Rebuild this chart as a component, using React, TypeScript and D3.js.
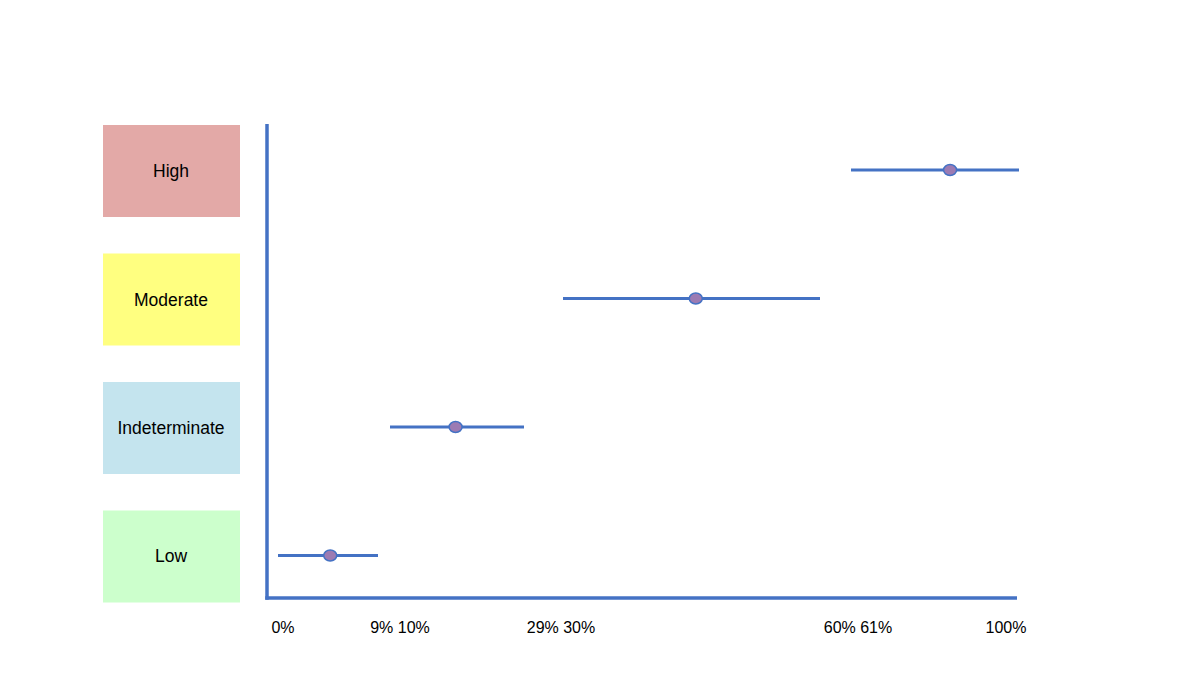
import React from "react";
import * as d3 from "d3";

const categories = ["High", "Moderate", "Indeterminate", "Low"];
const boxColors = ["#E3A9A7", "#FFFF80", "#C4E4EE", "#CCFFCC"];
const lowBounds = [61, 30, 10, 0];
const highBounds = [100, 60, 29, 9];
const pointValues = [84, 45.5, 19.3, 4.7];
const tickLabels = ["0%", "9% 10%", "29% 30%", "60% 61%", "100%"];
const tickValues = [0, 9.5, 29.5, 60.5, 100];

const W = 1200;
const H = 692;
const BLUE = "#4472C4";

export default function App() {
  const x = d3
    .scaleLinear()
    .domain([0, 9, 10, 29, 30, 60, 61, 100])
    .range([278, 378, 390, 524, 563, 820, 851, 1019]);
  const labelX = d3
    .scaleLinear()
    .domain(tickValues)
    .range([283, 400, 561, 858, 1006]);
  const y = d3
    .scaleBand<string>()
    .domain(categories)
    .range([125, 602.5])
    .paddingInner(0.284)
    .paddingOuter(0);

  const axisLeft = 267;
  const axisBottom = 598;

  return (
    <svg
      width={W}
      height={H}
      style={{ position: "absolute", left: 0, top: 0, background: "#fff" }}
      fontFamily="Liberation Sans, Arial, sans-serif"
    >
      {categories.map((c, i) => {
        const y0 = y(c)!;
        const bw = y.bandwidth();
        const cy = y0 + bw / 2;
        return (
          <g key={c}>
            <rect x={103} y={y0} width={137} height={bw} fill={boxColors[i]} />
            <text
              x={171}
              y={cy}
              textAnchor="middle"
              dominantBaseline="central"
              fontSize={17.5}
              fill="#000"
            >
              {c}
            </text>
            <line
              x1={x(lowBounds[i])}
              x2={x(highBounds[i])}
              y1={cy - 1}
              y2={cy - 1}
              stroke={BLUE}
              strokeWidth={3}
            />
            <ellipse
              cx={x(pointValues[i])}
              cy={cy - 1}
              rx={6.5}
              ry={5.5}
              fill="#9C7BB3"
              stroke={BLUE}
              strokeWidth={1.5}
            />
          </g>
        );
      })}
      <line x1={axisLeft} x2={axisLeft} y1={124} y2={axisBottom + 1.75} stroke={BLUE} strokeWidth={3.5} />
      <line x1={axisLeft - 1.75} x2={1017} y1={axisBottom} y2={axisBottom} stroke={BLUE} strokeWidth={3.5} />
      {tickLabels.map((t, i) => (
        <text
          key={t}
          x={labelX(tickValues[i])}
          y={627}
          textAnchor="middle"
          dominantBaseline="central"
          fontSize={16}
          fill="#000"
        >
          {t}
        </text>
      ))}
    </svg>
  );
}
